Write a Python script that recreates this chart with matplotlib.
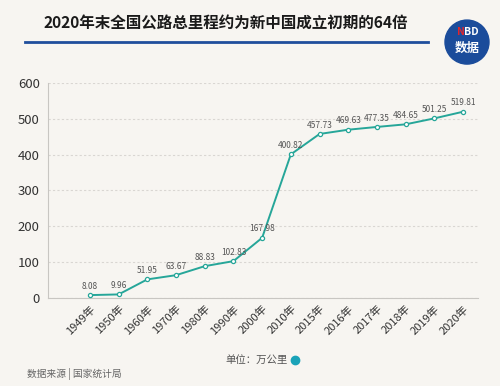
import matplotlib.pyplot as plt
from matplotlib.patches import Ellipse
from matplotlib.lines import Line2D

plt.rcParams['font.family'] = ['Noto Sans CJK SC', 'DejaVu Sans']

years = ['1949年', '1950年', '1960年', '1970年', '1980年', '1990年', '2000年',
         '2010年', '2015年', '2016年', '2017年', '2018年', '2019年', '2020年']
mileage = [8.08, 9.96, 51.95, 63.67, 88.83, 102.83, 167.98,
           400.82, 457.73, 469.63, 477.35, 484.65, 501.25, 519.81]
labels = ['8.08', '9.96', '51.95', '63.67', '88.83', '102.83', '167.98',
          '400.82', '457.73', '469.63', '477.35', '484.65', '501.25', '519.81']

bg = '#f7f5f1'
teal = '#26a699'

fig = plt.figure(figsize=(5, 3.86), dpi=100, facecolor=bg)
ax = fig.add_axes([0.096, 0.228, 0.86, 0.557], facecolor=bg)

x = list(range(len(years)))
ax.plot(x, mileage, color=teal, lw=1.4, marker='o', ms=3,
        mfc='white', mec=teal, mew=0.9, zorder=3)
for xi, v, t in zip(x, mileage, labels):
    ax.text(xi, v + 12, t, ha='center', va='bottom', fontsize=6, color='#555555')

ax.set_ylim(0, 600)
ax.set_xlim(-1.46, 13.52)
ax.set_yticks(range(0, 601, 100))
ax.set_xticks(x)
ax.set_xticklabels(years, rotation=45, ha='right', rotation_mode='anchor',
                   fontsize=8, color='#333333')
ax.tick_params(axis='y', labelsize=9.5, colors='#333333', length=0, pad=6)
ax.tick_params(axis='x', length=0, pad=4)
ax.grid(axis='y', ls=(0, (2, 2)), color='#d9d6d2', lw=0.8)
ax.set_axisbelow(True)
for s in ['top', 'right']:
    ax.spines[s].set_visible(False)
ax.spines['left'].set_color('#c8c6c2')
ax.spines['bottom'].set_color('#c8c6c2')

# title and header
fig.text(0.452, 0.94, '2020年末全国公路总里程约为新中国成立初期的64倍',
         ha='center', va='center', fontsize=11.2, fontweight='bold', color='#1a1a1a')
fig.add_artist(Line2D([0.05, 0.856], [0.89, 0.89], color='#1f4e9c', lw=2))
logo = Ellipse((0.934, 0.891), 44 / 500, 44 / 386, transform=fig.transFigure,
               color='#1b4c9b')
fig.add_artist(logo)
fig.text(0.921, 0.917, 'N', ha='center', va='center', fontsize=7.5,
         fontweight='bold', color='#e3242b')
fig.text(0.942, 0.917, 'BD', ha='center', va='center', fontsize=7.5,
         fontweight='bold', color='white')
fig.text(0.934, 0.874, '数据', ha='center', va='center', fontsize=9,
         fontweight='bold', color='white')

# legend and source
fig.text(0.575, 0.068, '单位：万公里', ha='right', va='center', fontsize=7.5, color='#555555')
fig.add_artist(Line2D([0.59], [0.068], marker='o', ms=6, color='#1aa3b8', lw=0))
fig.text(0.054, 0.03, '数据来源 | 国家统计局', ha='left', va='center',
         fontsize=7, color='#666666')

plt.savefig('out.png', dpi=100, facecolor=bg)
